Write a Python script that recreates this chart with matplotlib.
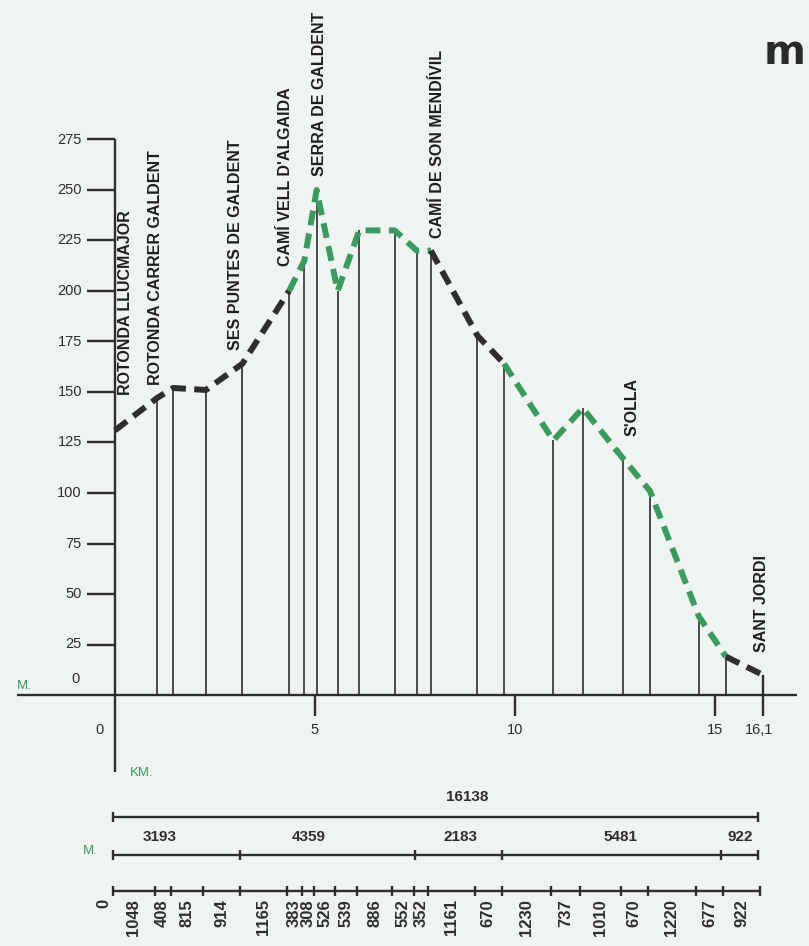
import numpy as np
import matplotlib
matplotlib.use("Agg")
import matplotlib.pyplot as plt

# ---------------- data ----------------
segments_m = [1048, 408, 815, 914, 1165, 383, 308, 526, 539, 886, 552, 352,
              1161, 670, 1230, 737, 1010, 670, 1220, 677, 922]
elevation_m = [131, 147, 152, 151, 164, 200, 215, 250, 200, 230, 230, 220, 220,
               178, 164, 126, 142, 117, 101, 39, 19, 10]
# colour of each dashed stretch between consecutive points (d = dark, g = green)
stretch_colour = ['d', 'd', 'd', 'd', 'd', 'g', 'g', 'g', 'g', 'g', 'g', 'g',
                  'd', 'd', 'g', 'g', 'g', 'g', 'g', 'g', 'd']
group_m = [3193, 4359, 2183, 5481, 922]
total_m = 16138
y_ticks = [25, 50, 75, 100, 125, 150, 175, 200, 225, 250, 275]
x_ticks = [5, 10, 15, 16.1]
x_tick_labels = ["5", "10", "15", "16,1"]
place_names = ["ROTONDA LLUCMAJOR", "ROTONDA CARRER GALDENT", "SES PUNTES DE GALDENT",
               "CAMÍ VELL D'ALGAIDA", "SERRA DE GALDENT", "CAMÍ DE SON MENDÍVIL",
               "S'OLLA", "SANT JORDI"]

km = np.concatenate([[0], np.cumsum(segments_m)]) / 1000.0
group_km = np.concatenate([[0], np.cumsum(group_m)]) / 1000.0

# ---------------- layout helpers (pixel -> data) ----------------
W, H = 809, 946
X0, PXKM = 115, 40.0
Y0, PXM = 695, 2.02
def X(px): return (px - X0) / PXKM
def Y(py): return (Y0 - py) / PXM

BG = "#eff3f1"
DARK = "#2e2e2e"
GREEN = "#3b9a5e"
FONT = ["Liberation Sans", "DejaVu Sans"]

fig = plt.figure(figsize=(W / 100, H / 100), dpi=100, facecolor=BG)
ax = fig.add_axes([0, 0, 1, 1])
ax.set_xlim(X(0), X(W))
ax.set_ylim(Y(H), Y(0))
ax.axis("off")
ax.set_facecolor(BG)

# baseline and y axis
ax.hlines(0, X(17), X(797), color=DARK, lw=1.7, zorder=2)
ax.vlines(0, Y(772), y_ticks[-1], color=DARK, lw=1.7, zorder=2)
ax.hlines(y_ticks, X(87), 0, color=DARK, lw=1.7)
for t in y_ticks:
    ax.text(X(82), t, str(t), ha="right", va="center", fontsize=10.5,
            color=DARK, family=FONT)
ax.text(X(80), Y(679), "0", ha="right", va="center", fontsize=10.5,
        color=DARK, family=FONT)
ax.text(X(17), Y(686), "M.", ha="left", va="center", fontsize=9.5,
        color=GREEN, family=FONT)

# x ticks under baseline
ax.vlines(x_ticks[:-1], Y(716), 0, color=DARK, lw=1.7)
for t, lab in zip(x_ticks, x_tick_labels):
    ax.text(t, Y(730), lab, ha="center", va="center", fontsize=10.5,
            color=DARK, family=FONT)
ax.text(X(100), Y(730), "0", ha="center", va="center", fontsize=10.5,
        color=DARK, family=FONT)
ax.text(X(130), Y(773), "KM.", ha="left", va="center", fontsize=9.5,
        color=GREEN, family=FONT)

# vertical lines at each point
ax.vlines(km[1:-1], 0, elevation_m[1:-1], color=DARK, lw=1.2, zorder=2)
ax.vlines(km[-1], Y(716), elevation_m[-1], color=DARK, lw=1.7, zorder=2)

# dashed elevation profile, split by colour
cols = {"d": DARK, "g": GREEN}
start = 0
for i in range(1, len(stretch_colour) + 1):
    if i == len(stretch_colour) or stretch_colour[i] != stretch_colour[start]:
        ax.plot(km[start:i + 1], elevation_m[start:i + 1], color=cols[stretch_colour[start]],
                lw=4.3, dashes=(2.5, 1.4), solid_capstyle="butt", zorder=4)
        start = i

# place names
name_pos = [(126, 395), (155, 385), (235, 350), (285, 266), (320, 176),
            (438, 238), (632, 436), (762, 652)]
for name, (px, py) in zip(place_names, name_pos):
    ax.text(X(px), Y(py), name, rotation=90, ha="center", va="bottom",
            fontsize=11.5, fontweight="bold", color="#1e1e1e", family=FONT)

# big cut-off title letter
ax.text(X(764), Y(64), "m", ha="left", va="baseline", fontsize=29,
        fontweight="bold", color="#2a2a2a", family=["DejaVu Sans"])

# ---------------- bottom distance bars ----------------
OFF = -0.06
def bar(y_px, xs):
    ax.hlines(Y(y_px), xs[0] + OFF, xs[-1] + OFF, color=DARK, lw=1.7)
    ax.vlines(np.array(xs) + OFF, Y(y_px + 5), Y(y_px - 5), color=DARK, lw=1.7)

# total
bar(817, [0, total_m / 1000.0])
ax.text(X(467), Y(797), str(total_m), ha="center", va="center", fontsize=11,
        fontweight="bold", color=DARK, family=FONT)

# groups
bar(855, group_km)
group_label_px = [160, 309, 460, 620, 740]
for px, v in zip(group_label_px, group_m):
    ax.text(X(px), Y(837), str(v), ha="center", va="center",
            fontsize=11, fontweight="bold", color=DARK, family=FONT)
ax.text(X(90), Y(851), "M.", ha="center", va="center", fontsize=9.5,
        color=GREEN, family=FONT)

# each stretch
bar(891, km)
ax.text(X(104), Y(899), "0", rotation=90, ha="center", va="top", fontsize=12,
        fontweight="bold", color=DARK, family=FONT)
for a, b, v in zip(km[:-1], km[1:], segments_m):
    ax.text((a + b) / 2 + OFF, Y(899), str(v), rotation=90, ha="center", va="top",
            fontsize=12, fontweight="bold", color=DARK, family=FONT)

fig.savefig("out.png", dpi=100, facecolor=BG)
